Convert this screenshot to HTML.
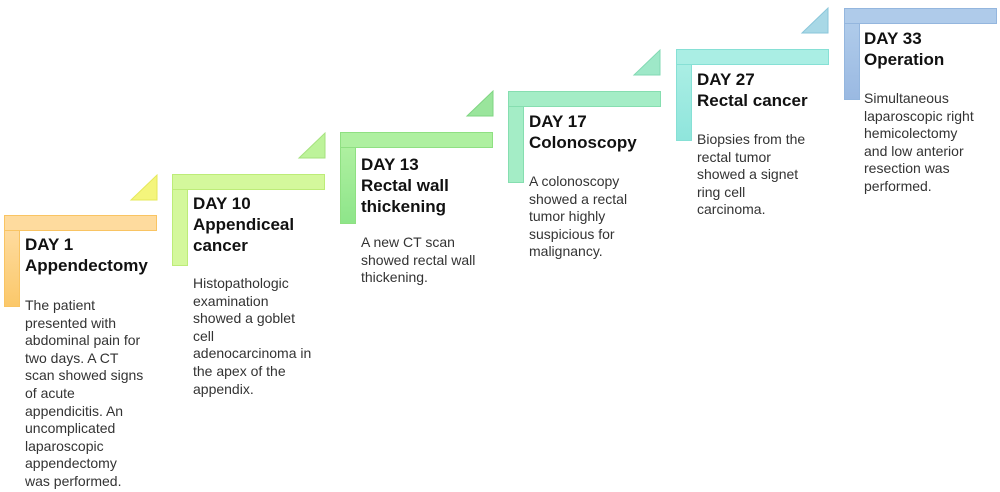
<!DOCTYPE html>
<html><head><meta charset="utf-8"><style>
body{margin:0;width:1000px;height:492px;background:#fff;position:relative;overflow:hidden;font-family:"Liberation Sans",sans-serif;color:#222}
.h{position:absolute;height:14px;width:151px;border:1px solid}
.v{position:absolute;width:14px;border:1px solid;border-top:none}
.t{position:absolute;font-weight:bold;font-size:17px;line-height:21px;color:#111;white-space:nowrap}
.b{position:absolute;font-size:14px;line-height:17.6px;color:#333;white-space:nowrap}
svg{position:absolute;left:0;top:0}
</style></head><body>
<svg width="1000" height="492">
<polygon points="157,175 157,200 131,200" fill="#f4f57c" stroke="#e6e85a"/>
<polygon points="325,133 325,158 299,158" fill="#bdf39a" stroke="#a5e27e"/>
<polygon points="493,91 493,116 467,116" fill="#9ae59c" stroke="#7fd582"/>
<polygon points="660,50 660,75 634,75" fill="#9ee8c8" stroke="#82d9b3"/>
<polygon points="828,8 828,33 802,33" fill="#a8d8e6" stroke="#8ac6da"/>
</svg>
<div class="h" style="left:4px;top:215px;background:#fedb9e;border-color:#f9c463"></div>
<div class="v" style="left:4px;top:231px;height:75px;background:linear-gradient(#fedb9e,#fbc86a);border-color:#f9c463"></div>
<div class="h" style="left:172px;top:174px;background:#d4f89c;border-color:#bdec78"></div>
<div class="v" style="left:172px;top:190px;height:75px;background:#d4f89c;border-color:#bdec78"></div>
<div class="h" style="left:340px;top:132px;background:#aef0a0;border-color:#8fe082"></div>
<div class="v" style="left:340px;top:148px;height:75px;background:linear-gradient(#aef0a0,#8ee58a);border-color:#8fe082"></div>
<div class="h" style="left:508px;top:91px;background:#a4edc6;border-color:#86deb0"></div>
<div class="v" style="left:508px;top:107px;height:75px;background:#a4edc6;border-color:#86deb0"></div>
<div class="h" style="left:676px;top:49px;background:#aaeee4;border-color:#86e0d5"></div>
<div class="v" style="left:676px;top:65px;height:75px;background:linear-gradient(#aaeee4,#8fe5dc);border-color:#86e0d5"></div>
<div class="h" style="left:844px;top:8px;background:#afcbea;border-color:#94b6de"></div>
<div class="v" style="left:844px;top:24px;height:75px;background:linear-gradient(#afcbea,#9ab9e2);border-color:#94b6de"></div>

<div class="t" style="left:25px;top:234px">DAY 1<br>Appendectomy</div>
<div class="b" style="left:25px;top:297px">The patient<br>presented with<br>abdominal pain for<br>two days. A CT<br>scan showed signs<br>of acute<br>appendicitis. An<br>uncomplicated<br>laparoscopic<br>appendectomy<br>was performed.</div>
<div class="t" style="left:193px;top:193px">DAY 10<br>Appendiceal<br>cancer</div>
<div class="b" style="left:193px;top:275px">Histopathologic<br>examination<br>showed a goblet<br>cell<br>adenocarcinoma in<br>the apex of the<br>appendix.</div>
<div class="t" style="left:361px;top:154px">DAY 13<br>Rectal wall<br>thickening</div>
<div class="b" style="left:361px;top:234px">A new CT scan<br>showed rectal wall<br>thickening.</div>
<div class="t" style="left:529px;top:111px">DAY 17<br>Colonoscopy</div>
<div class="b" style="left:529px;top:173px">A colonoscopy<br>showed a rectal<br>tumor highly<br>suspicious for<br>malignancy.</div>
<div class="t" style="left:697px;top:69px">DAY 27<br>Rectal cancer</div>
<div class="b" style="left:697px;top:131px">Biopsies from the<br>rectal tumor<br>showed a signet<br>ring cell<br>carcinoma.</div>
<div class="t" style="left:864px;top:28px">DAY 33<br>Operation</div>
<div class="b" style="left:864px;top:90px">Simultaneous<br>laparoscopic right<br>hemicolectomy<br>and low anterior<br>resection was<br>performed.</div>
</body></html>
